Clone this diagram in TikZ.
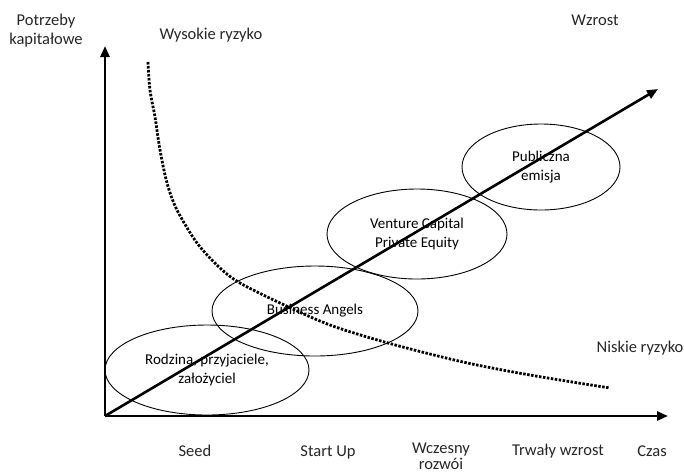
\documentclass[tikz,border=0pt]{standalone}
\usepackage{fontspec}
\setmainfont{Carlito}
\usetikzlibrary{shapes.geometric,arrows.meta,positioning}

\tikzset{
  faza/.style={draw,ellipse,line width=0.9pt,align=center,inner sep=0pt,
    font=\fontsize{15}{18.5}\selectfont},
  os/.style={line width=2.6pt,-{Triangle[length=11pt,width=9pt]}},
  opis/.style={align=center,inner sep=0pt,text=black!85},
  etap/.style={opis,anchor=base}
}

\begin{document}
\begin{tikzpicture}[x=1pt,y=-1pt,font=\fontsize{16.5}{19}\selectfont]
\useasboundingbox (0,0) rectangle (684,475);
\coordinate (o) at (105,416);
\coordinate (ytip) at (105,46);
\coordinate (xtip) at (668,416);
\coordinate (wtip) at (658,89);

% fazy finansowania
\node[faza,minimum width=204pt,minimum height=90pt] (rodzina) at (207,370) {Rodzina, przyjaciele,\\ założyciel};
\node[faza,minimum width=206pt,minimum height=90pt] (angels) at (315,311) {Business Angels};
\node[faza,minimum width=180pt,minimum height=90pt] (vc) at (417,234) {Venture Capital\\ Private Equity};
\node[faza,minimum width=158pt,minimum height=86pt] (emisja) at (541,167) {Publiczna\\ emisja};

% ryzyko
\draw[line width=2.8pt,dash pattern=on 2.5pt off 1.5pt] plot[smooth] coordinates {(148,62) (150,90) (155,117) (160,150) (167,183) (177,210) (197,243) (220,268) (240,283) (280,303) (330,325) (388,343) (463,362) (530,375) (610,388)};

% osie
\draw[os] (o) -- (ytip);
\draw[os] (o) -- (xtip);
\draw[os] (o) -- (wtip);

\node[opis] (potrzeby) at (46,31) {Potrzeby\\ kapitałowe};
\node[etap] (wysokie) at (211,39) {Wysokie ryzyko};
\node[etap] (wzrost) at (595,25) {Wzrost};
\node[etap] (niskie) at (640,352) {Niskie ryzyko};

\node[etap] (seed) at (195,456) {Seed};
\node[etap] (startup) at (328,456) {Start Up};
\node[opis,anchor=north,font=\fontsize{16.5}{16}\selectfont] (wczesny) at (441,443) {Wczesny\\ rozwói};
\node[etap] (trwaly) at (558,455) {Trwały wzrost};
\node[etap] (czas) at (652,456) {Czas};
\end{tikzpicture}
\end{document}
